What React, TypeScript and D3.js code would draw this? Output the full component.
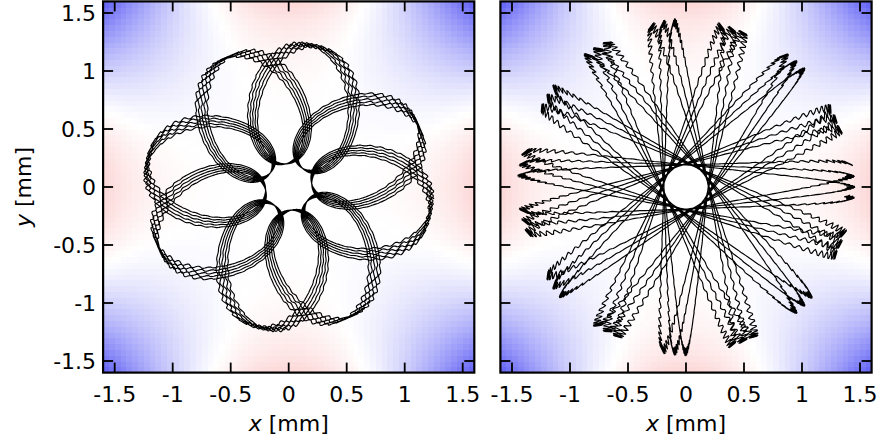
import React, { useMemo } from "react";
import * as d3 from "d3";

// Axis range and ticks (mm)
const AXIS_DOMAIN: [number, number] = [-1.6, 1.6];
const TICK_VALUES = [-1.5, -1, -0.5, 0, 0.5, 1, 1.5];
const TICK_LABELS = ["-1.5", "-1", "-0.5", "0", "0.5", "1", "1.5"];

// Background: rf octupole potential sampled on a coarse grid
const GRID_CELLS = 64;
const POTENTIAL_COLORS = ["#5f5ff5", "#ffffff", "#f55f5f"];

// Left orbit: elliptic loops; the loop frame turns mostly while the ion passes the centre
// [frame radius, radial semi-axis, tangential semi-axis] in mm
const LEFT_RADII = [0.72, 0.52, 0.41];
const LEFT_PETALS = 8;
// [start angle, pairwise wobble] in degrees
const LEFT_ANGLES = [-10, 5];
const LEFT_DETUNE = 0.0056;
// [revolutions, rf cycles per loop radian, samples per rf period]
const LEFT_RUN = [5, 36, 12];
const LEFT_MICRO = 0.0085;

// Right orbit: narrow precessing ellipse (two counter-rotating circles)
// [co-rotating radius, counter-rotating radius] in mm
const RIGHT_RADII = [0.805, 0.615];
// [guide rate, relative rate]
const RIGHT_RATES = [7, 15];
const RIGHT_START = 8;
const RIGHT_DETUNE = 0.00159;
// [run length, rf frequency, samples per rf period]
const RIGHT_RUN = [6 * Math.PI, 520, 5];
const RIGHT_MICRO = 0.0122;

const W = 882;
const H = 443;
const PLOT_SIZE = 371.2;
const PLOT_TOP = 1.4;
const FONT = "DejaVu Sans, sans-serif";

type Pt = [number, number];

// octupole micromotion: displacement ~ r^3 (cos 3θ, -sin 3θ) cos(Ωt)
function addMicromotion(x: number, y: number, gain: number, phase: number): Pt {
  const r = Math.hypot(x, y);
  const th = Math.atan2(y, x);
  const m = gain * r * r * r * Math.cos(phase);
  return [x + m * Math.cos(3 * th), y - m * Math.sin(3 * th)];
}

// frame turn accumulated along a loop, weighted by (1 - cos φ)^2
function frameTurn(phi: number) {
  return phi - (4 / 3) * Math.sin(phi) + Math.sin(2 * phi) / 6;
}

function loopOrbit(): Pt[] {
  const [A, a, b] = LEFT_RADII;
  const [start, wobble] = LEFT_ANGLES.map((d) => (d * Math.PI) / 180);
  const [revs, omega, perPeriod] = LEFT_RUN;
  const end = 2 * Math.PI * LEFT_PETALS * revs;
  const dphi = (2 * Math.PI) / (omega * perPeriod);
  const n = Math.ceil(end / dphi);
  const pts: Pt[] = [];
  for (let i = 0; i <= n; i++) {
    const phi = i * dphi;
    const guide =
      start +
      ((1 - LEFT_DETUNE) * frameTurn(phi)) / LEFT_PETALS +
      wobble * Math.cos(phi / 2);
    const ux = A + a * Math.cos(phi);
    const uy = b * Math.sin(phi);
    const c = Math.cos(guide);
    const s = Math.sin(guide);
    pts.push(addMicromotion(c * ux - s * uy, s * ux + c * uy, LEFT_MICRO, omega * phi));
  }
  return pts;
}

function epicycleOrbit(): Pt[] {
  const [A, B] = RIGHT_RADII;
  const [wg, nLoop] = RIGHT_RATES;
  const start = (RIGHT_START * Math.PI) / 180;
  const [T, omega, perPeriod] = RIGHT_RUN;
  const dt = (2 * Math.PI) / (omega * perPeriod);
  const n = Math.ceil(T / dt);
  const pts: Pt[] = [];
  for (let i = 0; i <= n; i++) {
    const t = i * dt;
    const guide = start + wg * t;
    const fast = -nLoop * (1 + RIGHT_DETUNE) * t;
    const ux = A + B * Math.cos(fast);
    const uy = B * Math.sin(fast);
    const c = Math.cos(guide);
    const s = Math.sin(guide);
    pts.push(addMicromotion(c * ux - s * uy, s * ux + c * uy, RIGHT_MICRO, omega * t));
  }
  return pts;
}

function octupole(x: number, y: number) {
  const x2 = x * x;
  const y2 = y * y;
  return x2 * x2 - 6 * x2 * y2 + y2 * y2;
}

interface PanelProps {
  id: string;
  left: number;
  points: Pt[];
  showYLabels: boolean;
}

function Panel({ id, left, points, showYLabels }: PanelProps) {
  const x = d3.scaleLinear().domain(AXIS_DOMAIN).range([0, PLOT_SIZE]);
  const y = d3.scaleLinear().domain(AXIS_DOMAIN).range([PLOT_SIZE, 0]);
  const vmax = 4 * Math.pow(AXIS_DOMAIN[1], 4);
  const color = d3
    .scaleLinear<string>()
    .domain([-vmax, 0, vmax])
    .range(POTENTIAL_COLORS)
    .clamp(true);

  const cells = useMemo(() => {
    const step = (AXIS_DOMAIN[1] - AXIS_DOMAIN[0]) / GRID_CELLS;
    const out: { x0: number; y0: number; x1: number; y1: number; c: string }[] = [];
    for (let i = 0; i < GRID_CELLS; i++) {
      for (let j = 0; j < GRID_CELLS; j++) {
        const gx = AXIS_DOMAIN[0] + i * step;
        const gy = AXIS_DOMAIN[0] + j * step;
        const v = octupole(gx + step / 2, gy + step / 2);
        out.push({ x0: gx, y0: gy + step, x1: gx + step, y1: gy, c: color(v) });
      }
    }
    return out;
  }, []);

  const line = d3
    .line<Pt>()
    .x((d) => x(d[0]))
    .y((d) => y(d[1]));
  const path = useMemo(() => line(points) || "", [points]);

  const tickLen = 10;
  return (
    <g transform={`translate(${left},${PLOT_TOP})`}>
      <defs>
        <clipPath id={`clip-${id}`}>
          <rect x={0} y={0} width={PLOT_SIZE} height={PLOT_SIZE} />
        </clipPath>
      </defs>
      <g clipPath={`url(#clip-${id})`}>
        <g shapeRendering="crispEdges">
          {cells.map((c, k) => (
            <rect
              key={k}
              x={x(c.x0)}
              y={y(c.y0)}
              width={x(c.x1) - x(c.x0) + 0.6}
              height={y(c.y1) - y(c.y0) + 0.6}
              fill={c.c}
            />
          ))}
        </g>
        <path d={path} fill="none" stroke="#000" strokeWidth={1.15} strokeLinejoin="round" />
      </g>
      <rect x={0} y={0} width={PLOT_SIZE} height={PLOT_SIZE} fill="none" stroke="#000" strokeWidth={2.2} />
      {TICK_VALUES.map((v) => (
        <g key={`t${v}`} stroke="#000" strokeWidth={1.8}>
          <line x1={x(v)} x2={x(v)} y1={PLOT_SIZE} y2={PLOT_SIZE - tickLen} />
          <line x1={x(v)} x2={x(v)} y1={0} y2={tickLen} />
          <line x1={0} x2={tickLen} y1={y(v)} y2={y(v)} />
          <line x1={PLOT_SIZE} x2={PLOT_SIZE - tickLen} y1={y(v)} y2={y(v)} />
        </g>
      ))}
      {TICK_VALUES.map((v, i) => (
        <text
          key={`xl${v}`}
          x={x(v)}
          y={PLOT_SIZE + 29.5}
          textAnchor="middle"
          fontFamily={FONT}
          fontSize={22}
          fill="#000"
        >
          {TICK_LABELS[i]}
        </text>
      ))}
      {showYLabels &&
        TICK_VALUES.map((v, i) => (
          <text
            key={`yl${v}`}
            x={-7}
            y={y(v) + 8.5}
            textAnchor="end"
            fontFamily={FONT}
            fontSize={22}
            fill="#000"
          >
            {TICK_LABELS[i]}
          </text>
        ))}
      <text
        x={PLOT_SIZE / 2}
        y={431 - PLOT_TOP}
        textAnchor="middle"
        fontFamily={FONT}
        fontSize={22}
        fill="#000"
      >
        <tspan fontStyle="italic">x</tspan>
        {" [mm]"}
      </text>
      {showYLabels && (
        <text
          transform={`translate(${30.5 - left},${PLOT_SIZE / 2}) rotate(-90)`}
          textAnchor="middle"
          fontFamily={FONT}
          fontSize={22}
          fill="#000"
        >
          <tspan fontStyle="italic">y</tspan>
          {" [mm]"}
        </text>
      )}
    </g>
  );
}

export default function App() {
  const leftOrbit = useMemo(() => loopOrbit(), []);
  const rightOrbit = useMemo(() => epicycleOrbit(), []);
  return (
    <svg
      width={W}
      height={H}
      viewBox={`0 0 ${W} ${H}`}
      style={{ position: "absolute", left: 0, top: 0, background: "#fff" }}
    >
      <Panel id="left" left={103.1} points={leftOrbit} showYLabels={true} />
      <Panel id="right" left={500.4} points={rightOrbit} showYLabels={false} />
    </svg>
  );
}
